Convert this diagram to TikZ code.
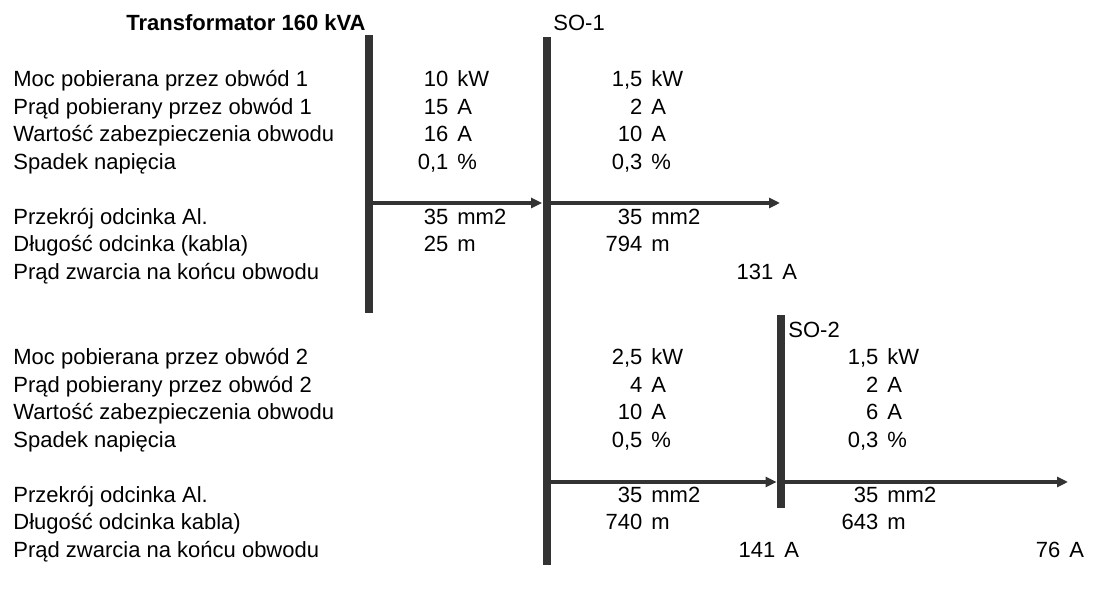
\documentclass[tikz,border=0pt]{standalone}
\usepackage{fontspec}
\setmainfont{Liberation Sans}
\usepackage{xcolor}
\usepackage{tikz}
\usetikzlibrary{arrows.meta, positioning}

\definecolor{buscol}{HTML}{333333}
\tikzset{
  lbl/.style={anchor=base west, inner sep=0pt},
  val/.style={anchor=base west, inner sep=0pt},
  bus/.style={fill=buscol, minimum width=4pt, inner sep=0pt},
  cable/.style={-{Triangle[length=5.5pt, width=5pt]}, line width=1.8pt, draw=buscol},
}

\begin{document}
\begin{tikzpicture}[x=0.5pt, y=-0.5pt, font=\fontsize{11}{13}\selectfont]
  \useasboundingbox (0,0) rectangle (1094,592);

  % szyny
  \node[bus, minimum height=139pt] (tr) at (368.5,174) {};
  \node[bus, minimum height=264pt] (so1) at (546.5,301) {};
  \node[bus, minimum height=96.5pt] (so2) at (781,411.5) {};

  \node[anchor=base east, inner sep=0pt, font=\fontsize{11}{13}\selectfont\bfseries] (title) at (366,31) {Transformator 160 kVA};
  \node[lbl] (so1name) at (553,31) {SO-1};
  \node[lbl] (so2name) at (788,338) {SO-2};

  % opisy
  \foreach \y/\t [count=\i] in {87/Moc pobierana przez obwód 1, 114.5/Prąd pobierany przez obwód 1,
      142/Wartość zabezpieczenia obwodu, 169.5/Spadek napięcia, 224.5/Przekrój odcinka Al.,
      252/Długość odcinka (kabla), 279.5/Prąd zwarcia na końcu obwodu,
      365/Moc pobierana przez obwód 2, 392.5/Prąd pobierany przez obwód 2,
      420/Wartość zabezpieczenia obwodu, 447.5/Spadek napięcia, 502.5/Przekrój odcinka Al.,
      530/Długość odcinka kabla), 557.5/Prąd zwarcia na końcu obwodu}
    \node[lbl] (l\i) at (13,\y) {\t};

  % wartosci
  \foreach \n/\u/\y [count=\i] in {10/kW/87, 15/A/114.5, 16/A/142, {0,1}/\%/169.5, 35/mm2/224.5, 25/m/252}
    \node[val] (a\i) at (448,\y) {\llap{\n}\kern4.5pt\u};
  \foreach \n/\u/\y [count=\i] in {{1,5}/kW/87, 2/A/114.5, 10/A/142, {0,3}/\%/169.5, 35/mm2/224.5, 794/m/252}
    \node[val] (b\i) at (642,\y) {\llap{\n}\kern4.5pt\u};
  \foreach \n/\u/\y [count=\i] in {{2,5}/kW/365, 4/A/392.5, 10/A/420, {0,5}/\%/447.5, 35/mm2/502.5, 740/m/530}
    \node[val] (c\i) at (642,\y) {\llap{\n}\kern4.5pt\u};
  \foreach \n/\u/\y [count=\i] in {{1,5}/kW/365, 2/A/392.5, 6/A/420, {0,3}/\%/447.5, 35/mm2/502.5, 643/m/530}
    \node[val] (d\i) at (878,\y) {\llap{\n}\kern4.5pt\u};
  \node[val] (ik1) at (773,279.5) {\llap{131}\kern4.5pt A};
  \node[val] (ik2) at (775,557.5) {\llap{141}\kern4.5pt A};
  \node[val] (ik3) at (1060,557.5) {\llap{76}\kern4.5pt A};

  % kable
  \coordinate (e1) at (780,203);
  \coordinate (e2) at (1068,482);
  \draw[cable] (tr.east |- e1) -- (so1.west |- e1);
  \draw[cable] (so1.east |- e1) -- (e1);
  \draw[cable] (so1.east |- e2) -- (so2.west |- e2);
  \draw[cable] (so2.east |- e2) -- (e2);
\end{tikzpicture}
\end{document}
